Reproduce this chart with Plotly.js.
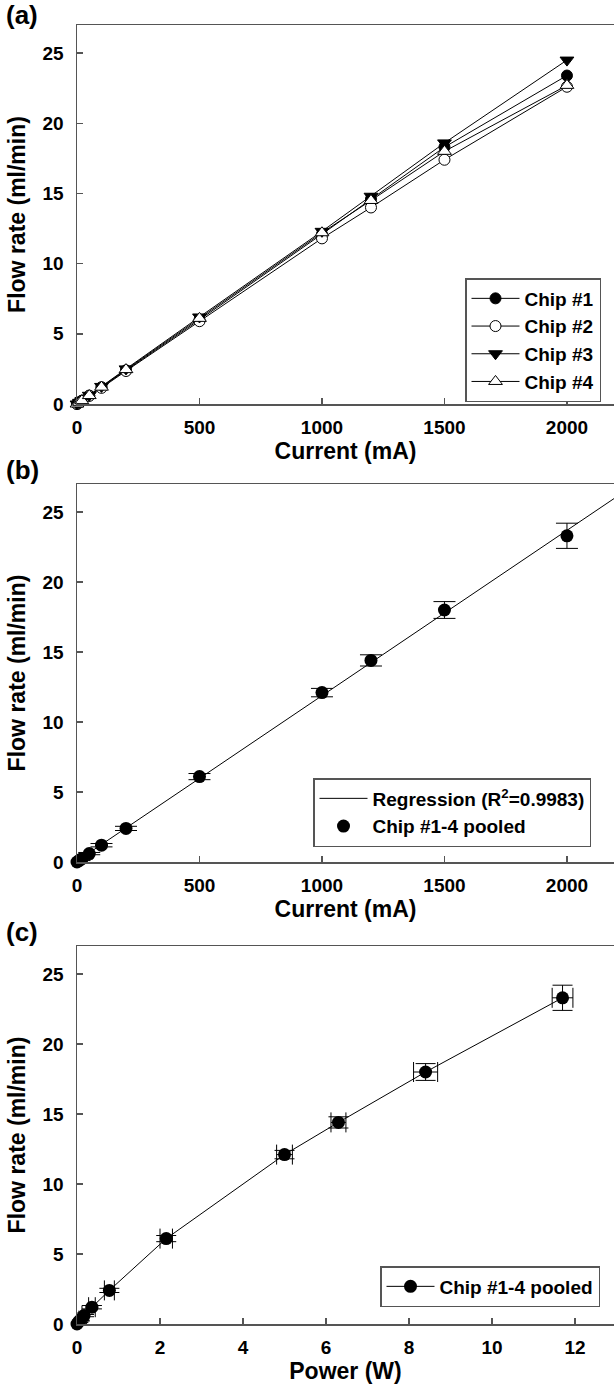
<!DOCTYPE html>
<html>
<head>
<meta charset="utf-8">
<script src="https://cdn.plot.ly/plotly-3.0.1.min.js"></script>
<style>html,body{margin:0;padding:0;background:#fff;}#chart{width:614px;height:1384px;}</style>
</head>
<body>
<div id="chart"></div>
<script>
// ---- data ----
var current = [0, 10, 20, 50, 100, 200, 500, 1000, 1200, 1500, 2000];
var chip1 = [0, 0.12, 0.24, 0.6, 1.2, 2.4, 6.0, 12.1, 14.6, 18.3, 23.4];
var chip2 = [0, 0.11, 0.23, 0.58, 1.15, 2.35, 5.9, 11.8, 14.0, 17.4, 22.6];
var chip3 = [0, 0.12, 0.25, 0.62, 1.25, 2.5, 6.2, 12.3, 14.8, 18.6, 24.5];
var chip4 = [0, 0.12, 0.24, 0.6, 1.2, 2.45, 6.1, 12.2, 14.5, 18.0, 22.7];
var pooled = [0, 0.12, 0.24, 0.6, 1.2, 2.4, 6.1, 12.1, 14.4, 18.0, 23.3];
var pooledErr = [0, 0.02, 0.03, 0.08, 0.12, 0.15, 0.22, 0.3, 0.4, 0.6, 0.9];
var power = [0, 0.03, 0.065, 0.17, 0.36, 0.78, 2.15, 5.0, 6.3, 8.4, 11.7];
var powerErr = [0, 0.01, 0.02, 0.05, 0.08, 0.12, 0.15, 0.19, 0.18, 0.29, 0.25];
var regLabel = 'Regression (R<sup>2</sup>=0.9983)';
var currentRange = [0, 2192];
var powerRange = [0, 12.94];
var flowRange = [0, 27];

// least squares regression of pooled flow on current
function linfit(x, y) {
  var n = x.length, sx = 0, sy = 0, sxx = 0, sxy = 0;
  for (var i = 0; i < n; i++) { sx += x[i]; sy += y[i]; sxx += x[i]*x[i]; sxy += x[i]*y[i]; }
  var b = (n*sxy - sx*sy) / (n*sxx - sx*sx);
  var a = (sy - b*sx) / n;
  return {a: a, b: b};
}
var fit = linfit(current, pooled);
var regX = [currentRange[0], currentRange[1]];
var regY = regX.map(function (v) { return fit.a + fit.b * v; });

var FONT = 'Liberation Sans, Arial, sans-serif';
var axisColor = '#555';

var traces = [
  {x: current, y: chip1, name: 'Chip #1', xaxis: 'x', yaxis: 'y', legend: 'legend', mode: 'lines+markers', cliponaxis: false,
   line: {color: '#000', width: 1}, marker: {symbol: 'circle', size: 11, color: '#000', line: {color: '#000', width: 1}}},
  {x: current, y: chip2, name: 'Chip #2', xaxis: 'x', yaxis: 'y', legend: 'legend', mode: 'lines+markers', cliponaxis: false,
   line: {color: '#000', width: 1}, marker: {symbol: 'circle', size: 11, color: '#fff', line: {color: '#000', width: 1}}},
  {x: current, y: chip3, name: 'Chip #3', xaxis: 'x', yaxis: 'y', legend: 'legend', mode: 'lines+markers', cliponaxis: false,
   line: {color: '#000', width: 1}, marker: {symbol: 'triangle-down', size: 12, color: '#000', line: {color: '#000', width: 1}}},
  {x: current, y: chip4, name: 'Chip #4', xaxis: 'x', yaxis: 'y', legend: 'legend', mode: 'lines+markers', cliponaxis: false,
   line: {color: '#000', width: 1}, marker: {symbol: 'triangle-up', size: 12, color: '#fff', line: {color: '#000', width: 1}}},

  {x: regX, y: regY, name: regLabel, xaxis: 'x2', yaxis: 'y2', legend: 'legend2', mode: 'lines',
   line: {color: '#000', width: 1}},
  {x: current, y: pooled, name: 'Chip #1-4 pooled', xaxis: 'x2', yaxis: 'y2', legend: 'legend2', mode: 'markers', cliponaxis: false,
   marker: {symbol: 'circle', size: 13, color: '#000'},
   error_y: {type: 'data', array: pooledErr, visible: true, color: '#000', thickness: 1, width: 11}},

  {x: power, y: pooled, name: 'Chip #1-4 pooled', xaxis: 'x3', yaxis: 'y3', legend: 'legend3', mode: 'lines+markers', cliponaxis: false,
   line: {color: '#000', width: 1}, marker: {symbol: 'circle', size: 13, color: '#000'},
   error_y: {type: 'data', array: pooledErr, visible: true, color: '#000', thickness: 1, width: 10},
   error_x: {type: 'data', array: powerErr, visible: true, color: '#000', thickness: 1, width: 10}}
];

function H(px) { return 1 - px / 1384; }
function X(px) { return (px - 77) / 537; }

function xax(range, dtick, title, anchor) {
  return {
    range: range, dtick: dtick, tick0: 0, anchor: anchor, domain: [0, 1],
    showline: true, linecolor: axisColor, linewidth: 1.5, mirror: true,
    ticks: 'inside', ticklen: 6, tickwidth: 1.5, tickcolor: axisColor,
    showgrid: false, zeroline: false, ticklabelstandoff: 6,
    tickfont: {family: FONT, size: 19, color: '#000', weight: 'bold'},
    title: {text: title, standoff: 4, font: {family: FONT, size: 23, color: '#000', weight: 'bold'}}
  };
}
function yax(domain, anchor) {
  return {
    range: flowRange, dtick: 5, tick0: 0, anchor: anchor, domain: domain,
    showline: true, linecolor: axisColor, linewidth: 1.5, mirror: false,
    ticks: 'inside', ticklen: 6, tickwidth: 1.5, tickcolor: axisColor,
    showgrid: false, zeroline: false, ticklabelstandoff: 8,
    tickfont: {family: FONT, size: 19, color: '#000', weight: 'bold'},
    title: {text: 'Flow rate (ml/min)', standoff: 10, font: {family: FONT, size: 23, color: '#000', weight: 'bold'}}
  };
}
function leg(xpx, ypx) {
  return {
    x: X(xpx), y: H(ypx), xanchor: 'left', yanchor: 'top', xref: 'paper', yref: 'paper',
    bgcolor: '#fff', bordercolor: axisColor, borderwidth: 1.5, itemwidth: 48, tracegroupgap: 0,
    font: {family: FONT, size: 19, color: '#000', weight: 'bold'}
  };
}
function label(txt, ypx) {
  return {text: txt, xref: 'paper', yref: 'paper', x: X(4), y: H(ypx), xanchor: 'left', yanchor: 'middle',
          showarrow: false, font: {family: FONT, size: 26, color: '#000', weight: 'bold'}};
}

var layout = {
  width: 614, height: 1384,
  margin: {l: 77, r: 0, t: 0, b: 0},
  paper_bgcolor: '#fff', plot_bgcolor: '#fff',
  showlegend: true,
  xaxis: xax(currentRange, 500, 'Current (mA)', 'y'),
  yaxis: yax([H(404), H(25)], 'x'),
  xaxis2: xax(currentRange, 500, 'Current (mA)', 'y2'),
  yaxis2: yax([H(862), H(484)], 'x2'),
  xaxis3: xax(powerRange, 2, 'Power (W)', 'y3'),
  yaxis3: yax([H(1324), H(946)], 'x3'),
  legend: leg(465, 278),
  legend2: leg(313, 778),
  legend3: leg(380, 1266),
  annotations: [label('(a)', 15), label('(b)', 470), label('(c)', 932)]
};

Plotly.newPlot('chart', traces, layout, {displayModeBar: false, staticPlot: true});
</script>
</body>
</html>
